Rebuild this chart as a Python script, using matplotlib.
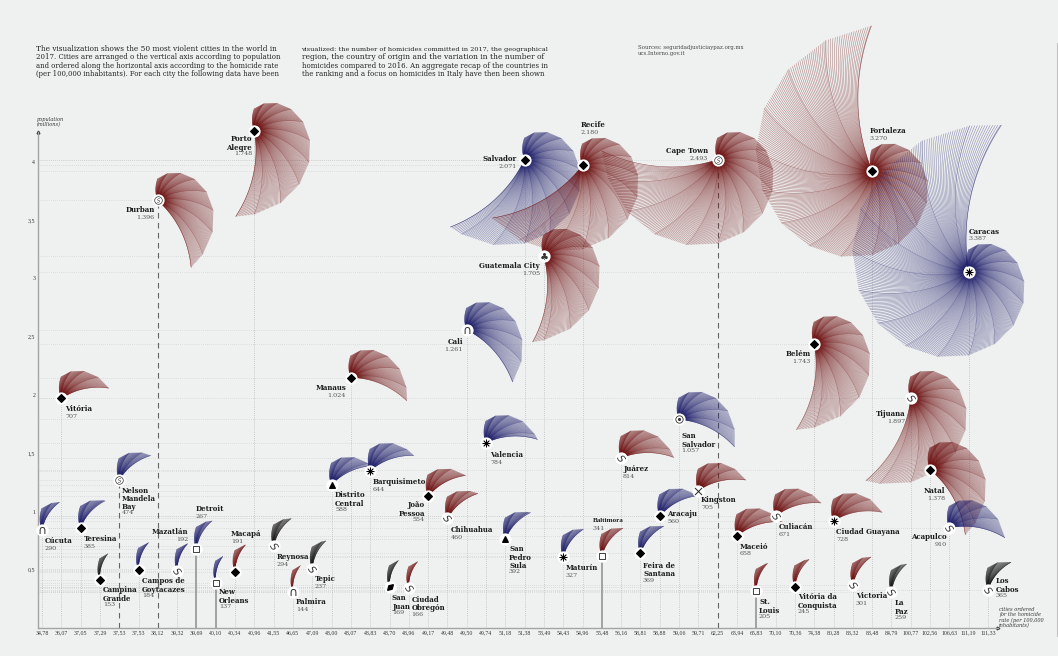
import numpy as np
import matplotlib
matplotlib.use("Agg")
import matplotlib.pyplot as plt
from matplotlib.collections import LineCollection
from matplotlib.lines import Line2D
from matplotlib.markers import MarkerStyle
from matplotlib.transforms import Affine2D

cities = ["Cúcuta","Vitória","Teresina","Campina\nGrande","Nelson\nMandela\nBay","Campos de\nGoytacazes","Durban","Mazatlán","Detroit","New\nOrleans",
          "Macapá","Porto\nAlegre","Reynosa","Palmira","Tepic","Distrito\nCentral","Manaus","Barquisimeto","San\nJuan","Ciudad\nObregón",
          "João\nPessoa","Chihuahua","Cali","Valencia","San\nPedro\nSula","Salvador","Guatemala City","Maturín","Recife","Baltimora",
          "Juárez","Feira de\nSantana","Aracaju","San\nSalvador","Kingston","Cape Town","Maceió","St.\nLouis","Culiacán","Vitória da\nConquista",
          "Belém","Ciudad Guayana","Victoria","Fortaleza","La\nPaz","Tijuana","Natal","Acapulco","Caracas","Los\nCabos"]
rates = ["34,78","36,07","37,05","37,29","37,53","37,53","38,12","39,32","39,69","40,10",
         "40,34","40,96","41,55","46,65","47,09","48,00","48,07","48,83","48,70","48,96",
         "49,17","49,48","49,50","49,74","51,18","51,38","53,49","54,43","54,96","55,48",
         "56,16","58,81","58,88","59,06","59,71","62,25","63,94","65,83","70,10","70,36",
         "74,38","80,28","83,32","83,48","84,79","100,77","102,56","106,63","111,19","111,33"]
homicides = [290,707,385,153,474,184,1396,192,267,137,
             191,1748,294,144,237,588,1024,644,169,166,
             554,460,1261,784,392,2071,1705,327,2180,341,
             814,369,560,1057,705,2493,658,205,671,245,
             1743,728,301,3270,259,1897,1378,910,3387,365]
population = [0.84,1.97,0.86,0.41,1.27,0.50,3.67,0.49,0.68,0.39,
              0.48,4.27,0.70,0.31,0.51,1.23,2.15,1.35,0.35,0.34,
              1.13,0.94,2.56,1.59,0.76,4.02,3.19,0.61,3.97,0.62,
              1.46,0.64,0.96,1.79,1.18,4.02,0.79,0.32,0.96,0.35,
              2.44,0.92,0.37,3.92,0.31,1.97,1.36,0.86,3.06,0.33]
trend = list("bRbkbbRbbbRRkRkbRbkRRRbbbbRbRRRbbbRRRRRRRRRRkRRbbk")
country = ["CO","BR","BR","BR","ZA","BR","ZA","MX","US","US",
           "BR","BR","MX","CO","MX","HN","BR","VE","PR","MX",
           "BR","MX","CO","VE","HN","BR","GT","VE","BR","US",
           "MX","BR","BR","SV","JM","ZA","BR","US","MX","BR",
           "BR","VE","MX","BR","MX","MX","BR","MX","VE","MX"]
y_ticks = [0.5,1,1.5,2,2.5,3,3.5,4]
y_tick_labels = ["0,5","1","1,5","2","2,5","3","3,5","4"]

W, H = 1058, 656
BG = "#eff1f1"
COL = {"R": "#6e1010", "b": "#1f1f6b", "k": "#161616"}
plt.rcParams["font.family"] = ["DejaVu Serif"]

fig = plt.figure(figsize=(W/100, H/100), dpi=100, facecolor=BG)
L, R, T, B = 38, 998, 132, 628
ax = fig.add_axes([L/W, 1-B/H, (R-L)/W, (B-T)/H], facecolor="none")
PX_X = 19.306
PX_Y = 116.5
ax.set_xlim((L-42)/PX_X, (R-42)/PX_X)
ax.set_ylim(0, (B-T)/PX_Y)
idx = np.arange(len(cities))
pop = np.array(population)

for s in ("top", "right"):
    ax.spines[s].set_visible(False)
for s in ("left", "bottom"):
    ax.spines[s].set_color("#a4a4a4")
    ax.spines[s].set_linewidth(1.0)
ax.set_xticks(idx, rates, fontsize=4.2, family="Liberation Serif", color="#333333")
ax.set_yticks(y_ticks, y_tick_labels, fontsize=4.2, family="Liberation Serif", color="#333333")
ax.tick_params(axis="both", length=0, pad=2)
ax.plot(1, 0, ">", transform=ax.transAxes, ms=2, color="#333333", clip_on=False)
ax.plot(0, 1, "^", transform=ax.transAxes, ms=2, color="#333333", clip_on=False)

# reference lines
ax.hlines(pop, ax.get_xlim()[0], idx, color="#c8caca", lw=0.5, linestyle=(0, (1, 2)), zorder=1)
for i in idx:
    c = country[i]
    if c == "ZA":
        ax.vlines(i, 0, pop[i], color="#666666", lw=0.8, linestyle=(0, (5, 4)), zorder=1)
    elif c == "US":
        ax.vlines(i, 0, pop[i], color="#8c8c8c", lw=1.1, zorder=1)
    else:
        ax.vlines(i, 0, pop[i], color="#a8aaaa", lw=0.5, linestyle=(0, (1, 2)), zorder=1)


def shell(i):
    """Fan of curved ribs swept clockwise from north, one per few homicides."""
    h = homicides[i]
    verts = np.r_[np.arange(0, h, 182), h].astype(float)
    phi = np.radians(0.11*verts)
    rad = 22 + 0.0378*verts
    vx, vy = rad*np.sin(phi), rad*np.cos(phi)

    def ribs(ns):
        ex, ey = np.interp(ns, verts, vx), np.interp(ns, verts, vy)
        ang, er = np.arctan2(ex, ey), np.hypot(ex, ey)
        s = np.linspace(0.04, 1, 26)[None, :]
        a = ang[:, None] - np.radians(22)*(1-s)
        r = er[:, None]*s
        return np.stack([i + r*np.sin(a)/PX_X, pop[i] + r*np.cos(a)/PX_Y], axis=2)

    col = COL[trend[i]]
    fine = np.r_[np.arange(0, h, 9), h].astype(float)
    ax.add_collection(LineCollection(ribs(fine), colors=col, linewidths=0.38, alpha=0.5,
                                     zorder=2, clip_on=False))
    ax.add_collection(LineCollection(ribs(verts), colors=col, linewidths=0.35, alpha=0.35,
                                     zorder=2, clip_on=False))


for i in idx:
    shell(i)

# country symbols
ax.scatter(idx, pop, s=78, c="white", linewidths=0, zorder=3, clip_on=False)
ess = MarkerStyle(r"$\mathit{S}$", transform=Affine2D().rotate_deg(-55))
SYM = {"BR": dict(marker="D", s=15, c="black"),
       "MX": dict(marker=ess, s=30, c="#333333", linewidths=0),
       "US": dict(marker="s", s=16, facecolors="white", edgecolors="#222222", linewidths=0.6),
       "CO": dict(marker=r"$\cap$", s=26, c="#333333", linewidths=0),
       "ZA": dict(marker="o", s=30, facecolors="white", edgecolors="#333333", linewidths=0.5),
       "VE": dict(marker=(8, 2, 0), s=26, c="black", linewidths=0.6),
       "HN": dict(marker="^", s=16, c="black"),
       "GT": dict(marker=r"$\clubsuit$", s=26, c="#333333", linewidths=0),
       "SV": dict(marker="o", s=28, facecolors="white", edgecolors="#333333", linewidths=0.6),
       "JM": dict(marker="x", s=26, c="#222222", linewidths=0.7),
       "PR": dict(marker=MarkerStyle("d", transform=Affine2D().rotate_deg(-45)), s=16, c="black")}
for key, kw in SYM.items():
    sel = [i for i in idx if country[i] == key]
    ax.scatter(idx[sel], pop[sel], zorder=4, clip_on=False, **kw)
sel = [i for i in idx if country[i] == "SV"]
ax.scatter(idx[sel], pop[sel], s=5, c="#333333", zorder=5, clip_on=False, linewidths=0)
sel = [i for i in idx if country[i] == "ZA"]
ax.scatter(idx[sel], pop[sel], s=9, marker=r"$\mathit{S}$", c="#333333", zorder=5, clip_on=False, linewidths=0)

# label layout in figure pixels: x, y of first line centre, alignment
LAB = {"Cúcuta":(45,541,"left"),"Vitória":(65,409,"left"),"Teresina":(84,539,"left"),"Campina\nGrande":(103,590,"left"),
"Nelson\nMandela\nBay":(122,490.5,"left"),"Campos de\nGoytacazes":(142,581,"left"),"Durban":(154.5,210,"right"),"Mazatlán":(188,532,"right"),
"Detroit":(196,509,"left"),"New\nOrleans":(219,592,"left"),"Macapá":(231,534,"left"),"Porto\nAlegre":(252,139,"right"),"Reynosa":(277,557,"left"),
"Palmira":(296,602,"left"),"Tepic":(315,579,"left"),"Distrito\nCentral":(335,495,"left"),"Manaus":(346,388,"right"),"Barquisimeto":(373,482,"left"),
"San\nJuan":(392,598,"left"),"Ciudad\nObregón":(411.5,599.5,"left"),"João\nPessoa":(425,505,"right"),"Chihuahua":(451,530,"left"),"Cali":(463,342,"right"),
"Valencia":(490,455,"left"),"San\nPedro\nSula":(509,549,"left"),"Salvador":(517,159,"right"),"Guatemala City":(540,266,"right"),"Maturín":(566,568,"left"),
"Recife":(581,125,"left"),"Baltimora":(593,521.5,"left"),"Juárez":(623,469,"left"),"Feira de\nSantana":(643,565.5,"left"),"Aracaju":(667,514,"left"),
"San\nSalvador":(681,436,"left"),"Kingston":(701,500,"left"),"Cape Town":(708,151,"right"),"Maceió":(740,546.5,"left"),"St.\nLouis":(759,602,"left"),
"Culiacán":(778.5,527,"left"),"Vitória da\nConquista":(798,597,"left"),"Belém":(810.7,354,"right"),"Ciudad Guayana":(836,532,"left"),"Victoria":(856,596,"left"),
"Fortaleza":(870,131,"left"),"La\nPaz":(895,603,"left"),"Tijuana":(905,414,"right"),"Natal":(945,491,"right"),"Acapulco":(947,537,"right"),
"Caracas":(969,231.5,"left"),"Los\nCabos":(996,581,"left")}
STEP = 7.4
def fmt(n):
    return f"{n:,}".replace(",", ".")
for i, name in enumerate(cities):
    x, y, ha = LAB[name]
    nl = name.count("\n") + 1
    fam = "Liberation Serif" if name == "Baltimora" else "DejaVu Serif"
    fig.text(x/W, 1-(y-3.6)/H, name, ha=ha, va="top", fontsize=5.0, fontweight="bold", color="#1c1c1c",
             linespacing=1.03, multialignment=ha, family=fam, zorder=6)
    fig.text(x/W, 1-(y+STEP*nl)/H, fmt(homicides[i]), ha=ha, va="center", fontsize=4.6,
             color="#555555", zorder=6)


def fit(x0, x1, y, s, **kw):
    t = fig.text(x0/W, 1-y/H, s, ha="left", va="center", **kw)
    w = t.get_window_extent(fig.canvas.get_renderer()).width
    t.set_fontsize(t.get_fontsize()*(x1-x0)/w)
    return t


para1 = ["The visualization shows the 50 most violent cities in the world in",
         "2017. Cities are arranged o the vertical axis according to population",
         "and ordered along the horizontal axis according to the homicide rate",
         "(per 100,000 inhabitants). For each city the following data have been"]
para2 = ["visualized: the number of homicides committed in 2017, the geographical",
         "region, the country of origin and the variation in the number of",
         "homicides compared to 2016. An aggregate recap of the countries in",
         "the ranking and a focus on homicides in Italy have then been shown"]
for k, (a, b) in enumerate(zip(para1, para2)):
    y = 49.3 + 8.1*k
    fit(36.5, 282, y, a, fontsize=5, color="#222222")
    fit(301.5, 548, y, b, fontsize=5, color="#222222")

fig.text(638/W, 1-48/H, "Sources: seguridadjusticiaypaz.org.mx", fontsize=3.9, va="center", color="#444444")
fig.text(638/W, 1-54/H, "ucs.Interno.gov.it", fontsize=3.9, va="center", color="#444444")
fig.text(36.5/W, 1-122/H, "population\n(millions)", fontsize=3.6, style="italic", va="center", color="#333333", linespacing=1.05)
fig.text(999/W, 1-617.5/H, "cities ordered\nfor the homicide\nrate (per 100,000\ninhabitants)", fontsize=3.6, style="italic",
         va="center", color="#333333", linespacing=1.05)

# thin page edge at the right of the picture
fig.add_artist(Line2D([1056.7/W, 1056.7/W], [1-43/H, 1-636/H], color="#c4c4c4", lw=0.8))

fig.savefig("out.png", dpi=100, facecolor=BG)
